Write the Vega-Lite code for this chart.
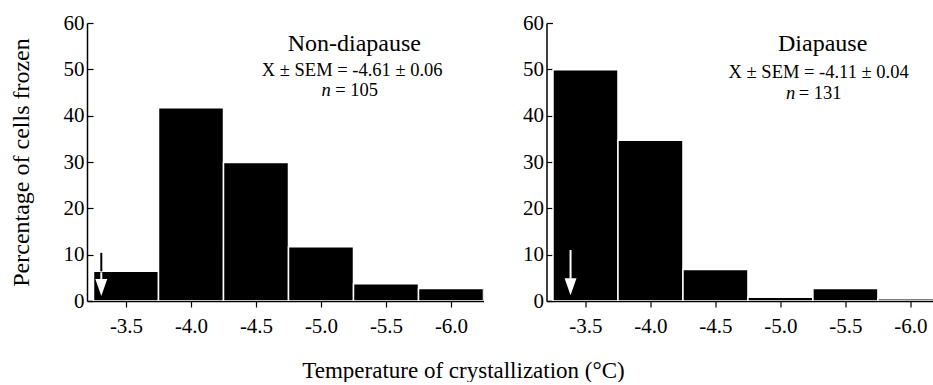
{
  "$schema": "https://vega.github.io/schema/vega-lite/v6.json",
  "padding": {"left": 8, "top": 12, "right": 0, "bottom": 0},
  "background": "white",
  "config": {
    "font": "Liberation Serif",
    "view": {"stroke": null},
    "axis": {
      "grid": false,
      "domainColor": "black",
      "domainWidth": 1.5,
      "tickColor": "black",
      "tickWidth": 1.2,
      "labelColor": "black",
      "titleColor": "black",
      "labelFont": "Liberation Serif",
      "titleFont": "Liberation Serif",
      "titleFontWeight": "normal",
      "zindex": 1
    },
    "text": {"font": "Liberation Serif", "color": "black"}
  },
  "bounds": "flush",
  "spacing": 62.5,
  "datasets": {
    "nondiapause": [
      {"temp": -3.5, "lo": -3.25, "hi": -3.75, "pct": 6.4},
      {"temp": -4.0, "lo": -3.75, "hi": -4.25, "pct": 41.7},
      {"temp": -4.5, "lo": -4.25, "hi": -4.75, "pct": 29.9},
      {"temp": -5.0, "lo": -4.75, "hi": -5.25, "pct": 11.7},
      {"temp": -5.5, "lo": -5.25, "hi": -5.75, "pct": 3.7},
      {"temp": -6.0, "lo": -5.75, "hi": -6.25, "pct": 2.7}
    ],
    "diapause": [
      {"temp": -3.5, "lo": -3.25, "hi": -3.75, "pct": 49.9},
      {"temp": -4.0, "lo": -3.75, "hi": -4.25, "pct": 34.7},
      {"temp": -4.5, "lo": -4.25, "hi": -4.75, "pct": 6.8},
      {"temp": -5.0, "lo": -4.75, "hi": -5.25, "pct": 0.8},
      {"temp": -5.5, "lo": -5.25, "hi": -5.75, "pct": 2.7},
      {"temp": -6.0, "lo": -5.75, "hi": -6.25, "pct": 0.5}
    ]
  },
  "hconcat": [
    {
      "width": 396.5,
      "height": 278,
      "layer": [
        {
          "data": {"name": "nondiapause"},
          "mark": {"type": "bar", "color": "black", "stroke": "white", "strokeWidth": 1.5, "clip": true},
          "encoding": {
            "x": {
              "field": "lo", "type": "quantitative",
              "scale": {"domain": [-6.25, -3.2], "reverse": true, "nice": false, "zero": false},
              "axis": {
                "values": [-3.5, -4.0, -4.5, -5.0, -5.5, -6.0],
                "format": ".1f",
                "labelExpr": "replace(datum.label, '\u2212', '-')",
                "labelFontSize": 21,
                "tickSize": 6,
                "labelPadding": 8,
                "title": "Temperature of crystallization (°C)",
                "titleFontSize": 23,
                "titleX": 376,
                "titlePadding": 23
              }
            },
            "x2": {"field": "hi"},
            "y": {
              "field": "pct", "type": "quantitative",
              "scale": {"domain": [0, 60], "nice": false},
              "axis": {
                "values": [0, 10, 20, 30, 40, 50, 60],
                "labelFontSize": 21,
                "tickSize": -6,
                "labelPadding": 9,
                "title": "Percentage of cells frozen",
                "titleFontSize": 24,
                "titlePadding": 30
              }
            },
            "y2": {"datum": 0}
          }
        },
        {
          "data": {"values": [{}]},
          "mark": {"type": "rule", "color": "black", "strokeWidth": 2},
          "encoding": {"x": {"datum": -3.31}, "y": {"datum": 10.4}, "y2": {"datum": 6.4}}
        },
        {
          "data": {"values": [{}]},
          "mark": {"type": "rule", "color": "white", "strokeWidth": 2},
          "encoding": {"x": {"datum": -3.31}, "y": {"datum": 6.2}, "y2": {"datum": 4.5}}
        },
        {
          "data": {"values": [{}]},
          "mark": {"type": "point", "shape": "M-0.7,-1L0.7,-1L0,1Z", "filled": true, "color": "white", "size": 289, "opacity": 1},
          "encoding": {"x": {"datum": -3.31}, "y": {"datum": 2.9}}
        },
        {
          "data": {"values": [{}]},
          "mark": {"type": "text", "fontSize": 24, "align": "center", "baseline": "middle"},
          "encoding": {"x": {"datum": -5.256}, "y": {"datum": 55.5}, "text": {"value": "Non-diapause"}}
        },
        {
          "data": {"values": [{}]},
          "mark": {"type": "text", "fontSize": 18.5, "align": "center", "baseline": "middle"},
          "encoding": {"x": {"datum": -5.24}, "y": {"datum": 49.9}, "text": {"value": "X ± SEM = -4.61 ± 0.06"}}
        },
        {
          "data": {"values": [{}]},
          "mark": {"type": "text", "fontSize": 18.5, "fontStyle": "italic", "align": "right", "baseline": "middle"},
          "encoding": {"x": {"datum": -5.075}, "y": {"datum": 45.5}, "text": {"value": "n"}}
        },
        {
          "data": {"values": [{}]},
          "mark": {"type": "text", "fontSize": 18.5, "align": "left", "baseline": "middle"},
          "encoding": {"x": {"datum": -5.11}, "y": {"datum": 45.5}, "text": {"value": "= 105"}}
        }
      ]
    },
    {
      "width": 386,
      "height": 278,
      "layer": [
        {
          "data": {"name": "diapause"},
          "mark": {"type": "bar", "color": "black", "stroke": "white", "strokeWidth": 1.5, "clip": true},
          "encoding": {
            "x": {
              "field": "lo", "type": "quantitative",
              "scale": {"domain": [-6.17, -3.2], "reverse": true, "nice": false, "zero": false},
              "axis": {
                "values": [-3.5, -4.0, -4.5, -5.0, -5.5, -6.0],
                "format": ".1f",
                "labelExpr": "replace(datum.label, '\u2212', '-')",
                "labelFontSize": 21,
                "tickSize": 6,
                "labelPadding": 8,
                "title": null
              }
            },
            "x2": {"field": "hi"},
            "y": {
              "field": "pct", "type": "quantitative",
              "scale": {"domain": [0, 60], "nice": false},
              "axis": {
                "values": [0, 10, 20, 30, 40, 50, 60],
                "labelFontSize": 21,
                "tickSize": -6,
                "labelPadding": 9,
                "title": null
              }
            },
            "y2": {"datum": 0}
          }
        },
        {
          "data": {"values": [{}]},
          "mark": {"type": "rule", "color": "white", "strokeWidth": 2},
          "encoding": {"x": {"datum": -3.385}, "y": {"datum": 11}, "y2": {"datum": 4.8}}
        },
        {
          "data": {"values": [{}]},
          "mark": {"type": "point", "shape": "M-0.7,-1L0.7,-1L0,1Z", "filled": true, "color": "white", "size": 289, "opacity": 1},
          "encoding": {"x": {"datum": -3.385}, "y": {"datum": 3.1}}
        },
        {
          "data": {"values": [{}]},
          "mark": {"type": "text", "fontSize": 24, "align": "center", "baseline": "middle"},
          "encoding": {"x": {"datum": -5.325}, "y": {"datum": 55.5}, "text": {"value": "Diapause"}}
        },
        {
          "data": {"values": [{}]},
          "mark": {"type": "text", "fontSize": 18.5, "align": "center", "baseline": "middle"},
          "encoding": {"x": {"datum": -5.294}, "y": {"datum": 49.5}, "text": {"value": "X ± SEM = -4.11 ± 0.04"}}
        },
        {
          "data": {"values": [{}]},
          "mark": {"type": "text", "fontSize": 18.5, "fontStyle": "italic", "align": "right", "baseline": "middle"},
          "encoding": {"x": {"datum": -5.114}, "y": {"datum": 44.9}, "text": {"value": "n"}}
        },
        {
          "data": {"values": [{}]},
          "mark": {"type": "text", "fontSize": 18.5, "align": "left", "baseline": "middle"},
          "encoding": {"x": {"datum": -5.141}, "y": {"datum": 44.9}, "text": {"value": "= 131"}}
        }
      ]
    }
  ]
}
